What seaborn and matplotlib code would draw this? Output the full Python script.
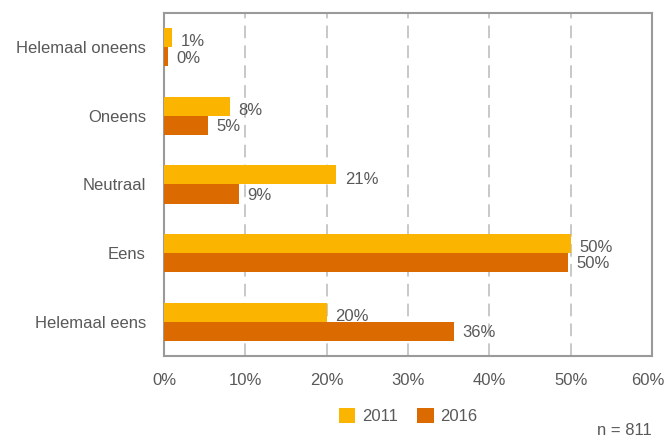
import matplotlib
matplotlib.use("Agg")
import matplotlib.pyplot as plt
import matplotlib.transforms as mtransforms
import seaborn as sns
import pandas as pd

# Survey answers, share of respondents per year (%)
categories = ["Helemaal oneens", "Oneens", "Neutraal", "Eens", "Helemaal eens"]
years = ["2011", "2016"]
values_2011 = [1.0, 8.1, 21.2, 50.0, 20.0]
values_2016 = [0.45, 5.4, 9.2, 49.7, 35.6]
x_ticks = [0, 10, 20, 30, 40, 50, 60]
sample_note = "n = 811"

colors = {"2011": "#FBB400", "2016": "#DB6A00"}
text_color = "#595959"

df = pd.DataFrame({
    "antwoord": categories * 2,
    "jaar": [years[0]] * len(categories) + [years[1]] * len(categories),
    "pct": values_2011 + values_2016,
})

sns.set_theme(style="white")
plt.rcParams["font.family"] = ["Liberation Sans", "DejaVu Sans"]
plt.rcParams["font.size"] = 12

fig = plt.figure(figsize=(6.66, 4.46), dpi=100)
ax = fig.add_axes([0.2462, 0.2018, 0.9790 - 0.2462, 0.9709 - 0.2018])

sns.barplot(data=df, y="antwoord", x="pct", hue="jaar", order=categories,
            hue_order=years, palette=colors, orient="h", width=0.555,
            saturation=1, linewidth=0, ax=ax, legend=True, zorder=3)

# value labels, nudged slightly below the bar centre (offsets in points)
for cont, drop in zip(ax.containers, (3.0, 1.0)):
    labels = [f"{w:.0f}%" for w in cont.datavalues]
    texts = ax.bar_label(cont, labels=labels, padding=6, color=text_color,
                         fontsize=12)
    for t in texts:
        x_off, y_off = t.xyann
        t.xyann = (x_off, y_off - drop)

ax.set_xlim(0, 60)
ax.set_ylim(len(categories) - 0.5, -0.5)
ax.set_xticks(x_ticks)
ax.set_xticklabels([f"{t}%" for t in x_ticks])
ax.set_xlabel("")
ax.set_ylabel("")
ax.tick_params(axis="both", length=0, colors=text_color, labelsize=12)
ax.tick_params(axis="x", pad=12)
ax.tick_params(axis="y", pad=13)

# keep the last tick label inside the canvas
last = ax.get_xticklabels()[-1]
last.set_transform(last.get_transform() +
                   mtransforms.ScaledTranslation(-4 / 100, 0, fig.dpi_scale_trans))

for t in x_ticks[1:-1]:
    ax.axvline(t, color="#c4c4c4", lw=1.3, linestyle=(0, (7, 4)), zorder=1)

for s in ax.spines.values():
    s.set_visible(True)
    s.set_color("#9a9a9a")
    s.set_linewidth(1.5)

handles, labs = ax.get_legend_handles_labels()
ax.legend_.remove()
fig.legend(handles, labs, loc="center", bbox_to_anchor=(0.6126, 0.068),
           ncol=2, frameon=False, handlelength=1.0, handleheight=1.0,
           handletextpad=0.4, columnspacing=1.15, fontsize=12,
           labelcolor=text_color)

fig.text(0.979, 0.018, sample_note, ha="right", va="bottom",
         color=text_color, fontsize=12)

fig.savefig("out.png", dpi=100)
